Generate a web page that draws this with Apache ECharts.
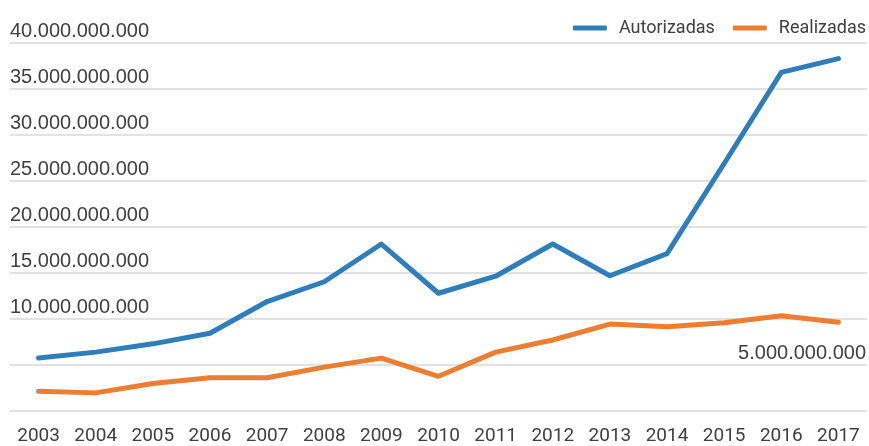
<!DOCTYPE html>
<html>
<head>
<meta charset="utf-8">
<script src="https://cdn.jsdelivr.net/npm/echarts@6/dist/echarts.min.js"></script>
<style>
  html, body { margin: 0; padding: 0; background: #fff; }
  #chart { width: 869px; height: 446px; }
</style>
</head>
<body>
<div id="chart"></div>
<script>
// anos
const years = ['2003', '2004', '2005', '2006', '2007', '2008', '2009', '2010',
  '2011', '2012', '2013', '2014', '2015', '2016', '2017'];
// valores em bilhões
const autorizadas = [5.75, 6.4, 7.3, 8.45, 11.9, 14.05, 18.15, 12.8,
  14.65, 18.15, 14.7, 17.1, 26.9, 36.8, 38.3];
const realizadas = [2.15, 1.97, 2.98, 3.62, 3.62, 4.77, 5.75, 3.77,
  6.4, 7.72, 9.45, 9.15, 9.6, 10.35, 9.65];
const BI = 1e9;
const yMin = 0, yMax = 40 * BI, yStep = 5 * BI;

const fmt = v => Math.round(v).toString().replace(/\B(?=(\d{3})+(?!\d))/g, '.');
const textColor = '#404040';

const chart = echarts.init(document.getElementById('chart'));
chart.setOption({
  animation: false,
  grid: { left: 10, right: 2, top: 43, bottom: 32, containLabel: false },
  legend: {
    right: 3,
    top: 19,
    padding: 0,
    icon: 'roundRect',
    itemWidth: 34,
    itemHeight: 5,
    itemGap: 18,
    textStyle: { fontFamily: 'Roboto', fontSize: 18, color: textColor, padding: [0, 0, 0, 7] },
    data: ['Autorizadas', 'Realizadas']
  },
  xAxis: {
    type: 'category',
    boundaryGap: true,
    data: years,
    axisLine: { show: false },
    axisTick: { show: false },
    axisLabel: { fontFamily: 'Roboto', fontSize: 19, color: textColor, margin: 16 }
  },
  yAxis: [{
    type: 'value',
    min: yMin, max: yMax, interval: yStep,
    axisLine: { show: false },
    axisTick: { show: false },
    splitLine: { lineStyle: { color: '#d9d9d9', width: 1.6 } },
    axisLabel: {
      align: 'left',
      verticalAlign: 'bottom',
      margin: 0,
      padding: [0, 0, 2, 0],
      fontFamily: 'Liberation Sans',
      fontSize: 20,
      color: textColor,
      formatter: v => (v === 0 || v === 5 * BI) ? '' : fmt(v)
    }
  }, {
    type: 'value',
    position: 'right',
    min: yMin, max: yMax, interval: yStep,
    axisLine: { show: false },
    axisTick: { show: false },
    splitLine: { show: false },
    axisLabel: {
      align: 'right',
      verticalAlign: 'bottom',
      margin: -1,
      padding: [0, 0, 2, 0],
      fontFamily: 'Liberation Sans',
      fontSize: 20,
      color: textColor,
      formatter: v => v === 5 * BI ? fmt(v) : ''
    }
  }],
  series: [{
    name: 'Autorizadas',
    type: 'line',
    data: autorizadas.map(v => v * BI),
    symbol: 'none',
    lineStyle: { width: 5, color: '#2E7EBB', cap: 'round', join: 'round' },
    itemStyle: { color: '#2E7EBB' }
  }, {
    name: 'Realizadas',
    type: 'line',
    data: realizadas.map(v => v * BI),
    symbol: 'none',
    lineStyle: { width: 5, color: '#ED7D31', cap: 'round', join: 'round' },
    itemStyle: { color: '#ED7D31' }
  }]
});
</script>
</body>
</html>
